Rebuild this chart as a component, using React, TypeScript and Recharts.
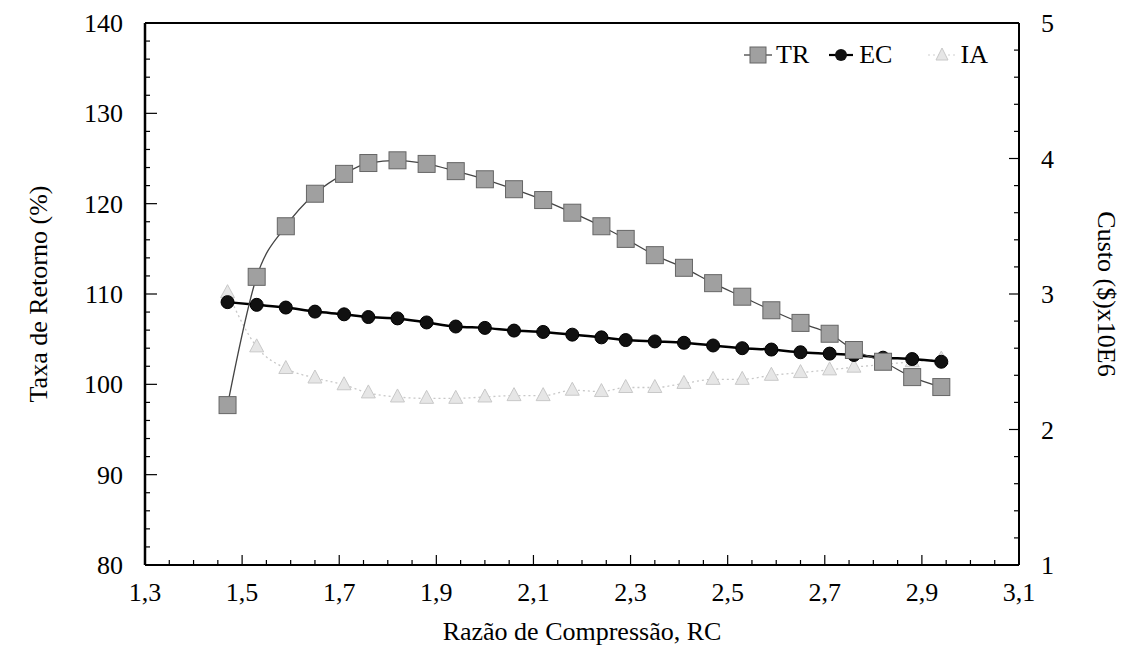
import { ComposedChart, Line, ReferenceLine, XAxis, YAxis } from "recharts";

// Razão de compressão (eixo x)
const rc = [
  1.47, 1.53, 1.59, 1.65, 1.71, 1.76, 1.82, 1.88, 1.94, 2.0, 2.06, 2.12, 2.18,
  2.24, 2.29, 2.35, 2.41, 2.47, 2.53, 2.59, 2.65, 2.71, 2.76, 2.82, 2.88, 2.94,
];

// Taxa de retorno (%) - eixo esquerdo
const tr = [
  97.7, 111.9, 117.5, 121.1, 123.3, 124.5, 124.8, 124.4, 123.6, 122.7, 121.6,
  120.4, 119.0, 117.5, 116.1, 114.3, 112.9, 111.2, 109.7, 108.2, 106.8, 105.6,
  103.8, 102.5, 100.8, 99.7,
];

// Custos ($ x10E6) - eixo direito
const ec = [
  2.94, 2.92, 2.9, 2.87, 2.85, 2.83, 2.82, 2.79, 2.76, 2.75, 2.73, 2.72, 2.7,
  2.68, 2.66, 2.65, 2.64, 2.62, 2.6, 2.59, 2.57, 2.56, 2.55, 2.53, 2.52, 2.5,
];

const ia = [
  3.01, 2.61, 2.45, 2.38, 2.33, 2.27, 2.24, 2.23, 2.23, 2.24, 2.25, 2.25, 2.29,
  2.28, 2.31, 2.31, 2.34, 2.37, 2.37, 2.4, 2.42, 2.44, 2.46, 2.48, 2.5, 2.52,
];

const xMajorTicks = [1.3, 1.5, 1.7, 1.9, 2.1, 2.3, 2.5, 2.7, 2.9, 3.1];
const leftMajorTicks = [80, 90, 100, 110, 120, 130, 140];
const rightMajorTicks = [1, 2, 3, 4, 5];

const data = rc.map((x, i) => ({ rc: x, tr: tr[i], ec: ec[i], ia: ia[i] }));

// minor ticks
const xTicks = Array.from({ length: 37 }, (_, i) => Math.round((1.3 + i * 0.05) * 100) / 100);
const leftTicks = Array.from({ length: 31 }, (_, i) => 80 + i * 2);
const rightTicks = Array.from({ length: 21 }, (_, i) => Math.round((1 + i * 0.2) * 10) / 10);

const FONT = '"Liberation Serif", "Times New Roman", serif';
const FONT_SIZE = 26;

const fmt = (v: number) => v.toFixed(1).replace(".", ",");

function XTick({ x, y, payload }: any) {
  const v = payload.value;
  const major = xMajorTicks.includes(v);
  return (
    <g>
      <line x1={x} x2={x} y1={y} y2={y - (major ? 10 : 5)} stroke="#000" strokeWidth={1.2} />
      {major && (
        <text x={x} y={y + 36} textAnchor="middle" fontSize={FONT_SIZE} fontFamily={FONT} fill="#000">
          {fmt(v)}
        </text>
      )}
    </g>
  );
}

function LeftTick({ x, y, payload }: any) {
  const v = payload.value;
  const major = leftMajorTicks.includes(v);
  return (
    <g>
      <line x1={x} x2={x + (major ? 12 : 5)} y1={y} y2={y} stroke="#000" strokeWidth={1.2} />
      {major && (
        <text x={x - 22} y={y} dy="0.35em" textAnchor="end" fontSize={FONT_SIZE} fontFamily={FONT} fill="#000">
          {v}
        </text>
      )}
    </g>
  );
}

function RightTick({ x, y, payload }: any) {
  const v = payload.value;
  const major = rightMajorTicks.includes(v);
  return (
    <g>
      <line x1={x} x2={x - (major ? 10 : 5)} y1={y} y2={y} stroke="#000" strokeWidth={1.2} />
      {major && (
        <text x={x + 22} y={y} dy="0.35em" textAnchor="start" fontSize={FONT_SIZE} fontFamily={FONT} fill="#000">
          {v}
        </text>
      )}
    </g>
  );
}

function SquareDot({ cx, cy }: any) {
  if (cx == null || cy == null) return null;
  return <rect x={cx - 8.5} y={cy - 8.5} width={17} height={17} fill="#a0a0a0" stroke="#666" strokeWidth={1} />;
}

function CircleDot({ cx, cy }: any) {
  if (cx == null || cy == null) return null;
  return <circle cx={cx} cy={cy} r={6.5} fill="#111" stroke="#000" strokeWidth={1} />;
}

function TriangleDot({ cx, cy }: any) {
  if (cx == null || cy == null) return null;
  return (
    <polygon
      points={`${cx},${cy - 8} ${cx - 7},${cy + 5} ${cx + 7},${cy + 5}`}
      fill="#e6e6e6"
      stroke="#c8c8c8"
      strokeWidth={1}
    />
  );
}

const legendItems = [
  { key: "TR", marker: "square", gap: 16 },
  { key: "EC", marker: "circle", gap: 34 },
  { key: "IA", marker: "triangle", gap: 0 },
];

function LegendBox() {
  return (
    <div
      style={{
        position: "absolute",
        left: 742,
        top: 42,
        display: "flex",
        alignItems: "center",
        fontFamily: FONT,
        fontSize: FONT_SIZE,
        color: "#000",
        lineHeight: 1,
      }}
    >
      {legendItems.map((item) => (
        <div key={item.key} style={{ display: "flex", alignItems: "center", marginRight: item.gap }}>
          <svg width={32} height={22}>
            {item.marker === "square" && (
              <>
                <line x1={2} x2={30} y1={11} y2={11} stroke="#444" strokeWidth={1.3} />
                <rect x={8} y={3} width={16} height={16} fill="#a0a0a0" stroke="#666" />
              </>
            )}
            {item.marker === "circle" && (
              <>
                <line x1={4} x2={28} y1={11} y2={11} stroke="#000" strokeWidth={2.2} />
                <circle cx={16} cy={11} r={6} fill="#111" />
              </>
            )}
            {item.marker === "triangle" && (
              <>
                <line x1={2} x2={30} y1={11} y2={11} stroke="#d0d0d0" strokeWidth={1.2} strokeDasharray="2 3" />
                <polygon points="16,4 10,16 22,16" fill="#e6e6e6" stroke="#c8c8c8" />
              </>
            )}
          </svg>
          <span style={{ marginLeft: 2 }}>{item.key}</span>
        </div>
      ))}
    </div>
  );
}

const titleStyle = { textAnchor: "middle" as const, fontSize: FONT_SIZE, fontFamily: FONT, fill: "#000" };

export default function App() {
  return (
    <div style={{ position: "absolute", left: 0, top: 0, width: 1130, height: 656, background: "#fff" }}>
      <ComposedChart width={1130} height={656} data={data} margin={{ top: 23, right: 0, bottom: 0, left: 0 }}>
        <XAxis
          type="number"
          dataKey="rc"
          domain={[1.3, 3.1]}
          ticks={xTicks}
          interval={0}
          height={91}
          tickSize={0}
          tickMargin={0}
          tickLine={false}
          tick={(p: any) => <XTick {...p} />}
          axisLine={{ stroke: "#000", strokeWidth: 2 }}
          allowDataOverflow
          label={{ value: "Razão de Compressão, RC", position: "insideBottom", offset: 16, style: titleStyle }}
        />
        <YAxis
          yAxisId="left"
          orientation="left"
          domain={[80, 140]}
          ticks={leftTicks}
          interval={0}
          width={145}
          tickSize={0}
          tickMargin={0}
          tickLine={false}
          tick={(p: any) => <LeftTick {...p} />}
          axisLine={{ stroke: "#000", strokeWidth: 2.5 }}
          allowDataOverflow
          label={{ value: "Taxa de Retorno (%)", angle: -90, position: "insideLeft", offset: 38, style: titleStyle }}
        />
        <YAxis
          yAxisId="right"
          orientation="right"
          domain={[1, 5]}
          ticks={rightTicks}
          interval={0}
          width={111}
          tickSize={0}
          tickMargin={0}
          tickLine={false}
          tick={(p: any) => <RightTick {...p} />}
          axisLine={{ stroke: "#000", strokeWidth: 2 }}
          allowDataOverflow
          label={{ value: "Custo ($)x10E6", angle: 90, position: "insideRight", offset: 23, style: titleStyle }}
        />
        <ReferenceLine yAxisId="left" y={140} stroke="#000" strokeWidth={2} />
        <Line
          yAxisId="right"
          dataKey="ia"
          type="monotone"
          stroke="#c8c8c8"
          strokeWidth={1.3}
          strokeDasharray="2 3"
          dot={(p: any) => <TriangleDot key={`ia-${p.index}`} {...p} />}
          activeDot={false}
          isAnimationActive={false}
        />
        <Line
          yAxisId="right"
          dataKey="ec"
          type="monotone"
          stroke="#000"
          strokeWidth={2.5}
          dot={(p: any) => <CircleDot key={`ec-${p.index}`} {...p} />}
          activeDot={false}
          isAnimationActive={false}
        />
        <Line
          yAxisId="left"
          dataKey="tr"
          type="monotone"
          stroke="#444"
          strokeWidth={1.3}
          dot={(p: any) => <SquareDot key={`tr-${p.index}`} {...p} />}
          activeDot={false}
          isAnimationActive={false}
        />
      </ComposedChart>
      <LegendBox />
    </div>
  );
}
